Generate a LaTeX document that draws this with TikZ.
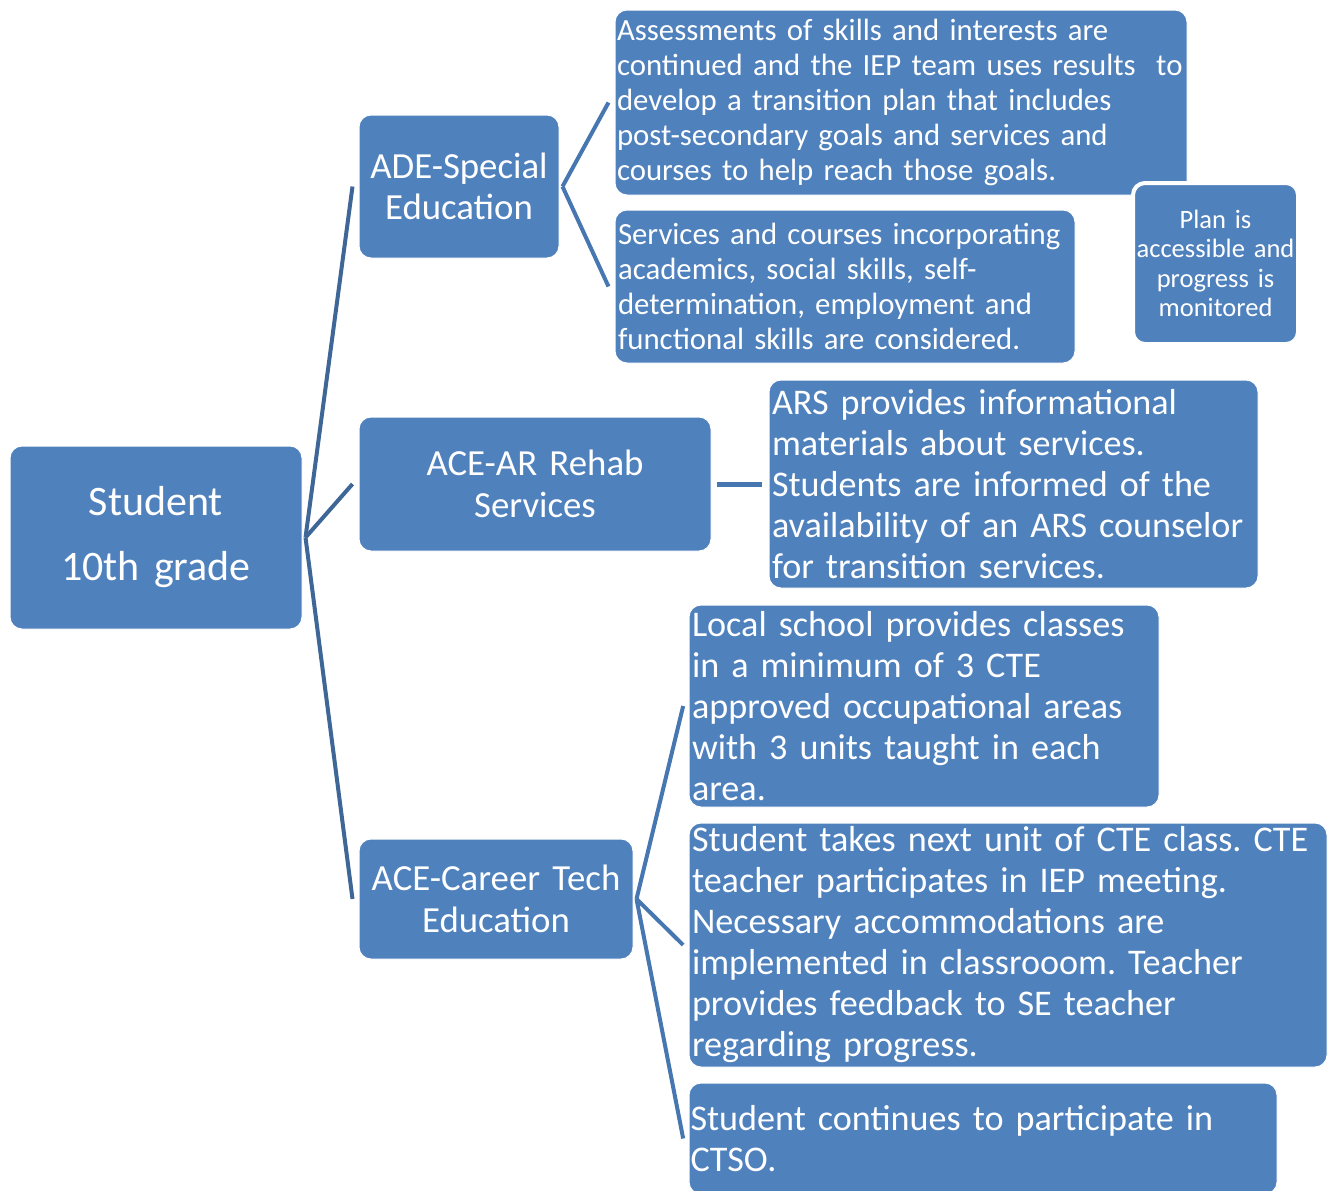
\documentclass[tikz,border=0pt]{standalone}
\usepackage{fontspec}
\setmainfont{Carlito}
\definecolor{boxblue}{HTML}{4F81BD}
\definecolor{trunkblue}{HTML}{3E6697}
\definecolor{branchblue}{HTML}{4677B0}
\hyphenpenalty=10000
\frenchspacing
\begin{document}
\begin{tikzpicture}[x=0.75pt,y=-0.75pt]
	\tikzset{box/.style={fill=boxblue,draw=white,line width=0.75pt,rounded corners=9pt,text=white,inner sep=0pt},
		topfont/.style={font=\fontsize{31.5pt}{48.75pt}\selectfont,align=center},
		midfont/.style={font=\fontsize{27.6pt}{31.1pt}\selectfont,align=center},
		bigtext/.style={font=\fontsize{27.1pt}{30.75pt}\selectfont,align=left},
		smalltext/.style={font=\fontsize{23.1pt}{26.25pt}\selectfont,align=left},
		trunk/.style={draw=trunkblue,line width=3pt},
		branch/.style={draw=branchblue,line width=3pt}}
	\useasboundingbox (0,0) rectangle (1335,1190);
	\clip (0,0) rectangle (1335,1190);
	\node [box,topfont,minimum width=219pt,minimum height=137.25pt,text width=210pt] (stu) at (156,537.5) {Student\\10th grade};
	\node [box,midfont,minimum width=150pt,minimum height=107.25pt,text width=145.5pt] (ade) at (459,186.5) {ADE-Special\\Education};
	\node [box,midfont,minimum width=264pt,minimum height=100.5pt,text width=259.5pt] (rehab) at (535,484) {ACE-AR Rehab\\Services};
	\node [box,midfont,minimum width=205.5pt,minimum height=90pt,text width=201pt] (cte) at (496,899) {ACE-Career Tech\\Education};
	\node [box,smalltext,minimum width=429pt,minimum height=138.75pt,text width=426pt] (assess) at (901,102.5) {Assessments of skills and interests are\\continued and the IEP team uses results \ to\\develop a transition plan that includes\\post-secondary goals and services and\\courses to help reach those goals.};
	\node [box,smalltext,minimum width=345pt,minimum height=114.75pt,text width=340.5pt] (serv) at (845,286.5) {Services and courses incorporating\\academics, social skills, self-\\determination, employment and\\functional skills are considered.};
	\node [box,line width=3pt,font=\fontsize{19.9pt}{22.1pt}\selectfont,align=center,minimum width=123.75pt,minimum height=120.75pt,text width=120.75pt] (plan) at (1215.5,263.5) {Plan is\\accessible and\\progress is\\monitored};
	\node [box,bigtext,minimum width=366.75pt,minimum height=156pt,text width=362.25pt] (ars) at (1013.5,484) {ARS provides informational\\materials about services.\\Students are informed of the\\availability of an ARS counselor\\for transition services.};
	\node [box,bigtext,minimum width=352.5pt,minimum height=151.5pt,text width=348pt] (local) at (924,706) {Local school provides classes\\in a minimum of 3 CTE\\approved occupational areas\\with 3 units taught in each\\area.};
	\node [box,bigtext,minimum width=478.5pt,minimum height=183pt,text width=474pt] (takes) at (1008,945) {Student takes next unit of CTE class. CTE\\teacher participates in IEP meeting.\\Necessary accommodations are\\implemented in classrooom. Teacher\\provides feedback to SE teacher\\regarding progress.};
	\node [box,bigtext,minimum width=441pt,minimum height=83.25pt,text width=438.75pt] (ctso) at (983,1138.5) {Student continues to participate in\\CTSO.};
	\coordinate (j0) at ([xshift=2.25pt]stu.east);
	\coordinate (j1) at ([xshift=2.25pt]ade.east);
	\coordinate (j2) at ([xshift=2.25pt]cte.east);
	\draw [trunk] (j0) -- ([xshift=-4.5pt]ade.west);
	\draw [trunk] (j0) -- ([xshift=-4.5pt]rehab.west);
	\draw [trunk] (j0) -- ([xshift=-4.5pt]cte.west);
	\draw [branch] (j1) -- ([xshift=-4.5pt]assess.west);
	\draw [branch] (j1) -- ([xshift=-4.5pt]serv.west);
	\draw [branch,line width=3.75pt] ([xshift=3.75pt]rehab.east) -- ([xshift=-5.25pt]ars.west);
	\draw [branch] (j2) -- ([xshift=-4pt]local.west);
	\draw [branch] (j2) -- ([xshift=-4pt]takes.west);
	\draw [branch] (j2) -- ([xshift=-4pt]ctso.west);
\end{tikzpicture}
\end{document}
